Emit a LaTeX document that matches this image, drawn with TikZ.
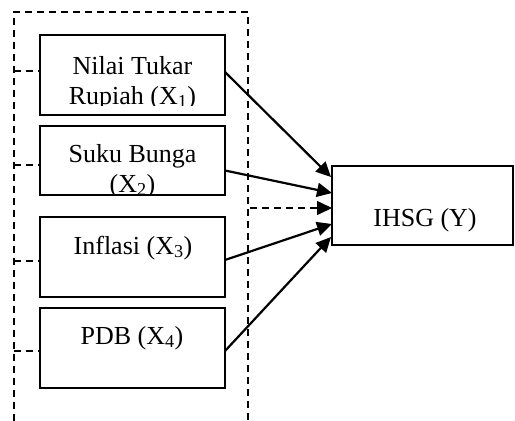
\documentclass[tikz,border=0pt]{standalone}
\usepackage{fontspec}
\setmainfont{Liberation Serif}
\usetikzlibrary{arrows.meta,positioning}

\tikzset{
  var/.style={draw, line width=2pt, minimum width=185pt, minimum height=80pt, inner sep=0pt, outer sep=0pt},
  lbl/.style={anchor=base, inner sep=0pt, font=\fontsize{26}{30}\selectfont},
  link/.style={line width=2.2pt, -{Triangle[length=15pt,width=14pt]}},
  frame/.style={line width=1.6pt, dash pattern=on 7pt off 5pt},
}

\begin{document}
\begin{tikzpicture}[x=1pt,y=-1pt]
\useasboundingbox (0,0) rectangle (515,421);

% outer dashed frame (open at the bottom)
\draw[frame] (14,421) -- (14,12) -- (248,12) -- (248,421);

% independent variables
\node[var] (x1) at (132.5,75) {};
\node[var, minimum height=69pt] (x2) [below=11pt of x1] {};
\node[var] (x3) [below=22pt of x2] {};
\node[var] (x4) [below=11pt of x3] {};

% dependent variable
\node[var, minimum width=181pt, minimum height=79pt] (y) at (422.5,205.5) {};
\node[lbl] (ty) at (425,226) {IHSG (Y)};

\begin{scope}
\clip (x1.north west) rectangle ([yshift=10pt]x1.south east);
\node[lbl] (t1a) at (132.5,74) {Nilai Tukar};
\node[lbl] (t1b) at (132.5,104) {Rupiah (X\textsubscript{1})};
\end{scope}
\begin{scope}
\clip (x2.north west) rectangle ([yshift=2pt]x2.south east);
\node[lbl] (t2a) at (132.5,162) {Suku Bunga};
\node[lbl] (t2b) at (132.5,192) {(X\textsubscript{2})};
\end{scope}
\node[lbl] (t3) at (133,254) {Inflasi (X\textsubscript{3})};
\node[lbl] (t4) at (132,344) {PDB (X\textsubscript{4})};

% dashed stubs on the left
\coordinate (l1) at (14,71);
\coordinate (l2) at (14,165);
\coordinate (l3) at (14,261);
\coordinate (l4) at (14,351);
\draw[frame] (l1) -- (l1 -| x1.west);
\draw[frame] (l2) -- (l2 -| x2.west);
\draw[frame] (l3) -- (l3 -| x3.west);
\draw[frame] (l4) -- (l4 -| x4.west);

% arrow ends on IHSG
\coordinate (e1) at (331,177);
\coordinate (e2) at (332,193);
\coordinate (e3) at (332,208);
\coordinate (e4) at (332,224);
\coordinate (e5) at (331,237);

\draw[link] ([yshift=3pt]x1.east) -- (e1);
\draw[link] ([yshift=-10pt]x2.east) -- (e2);
\draw[link] ([yshift=-3pt]x3.east) -- (e4);
\draw[link] ([yshift=-3pt]x4.east) -- (e5);
\coordinate (s) at (250,208);
\draw[frame, -{Triangle[length=15pt,width=14pt]}] (s) -- (e3);
\end{tikzpicture}
\end{document}
